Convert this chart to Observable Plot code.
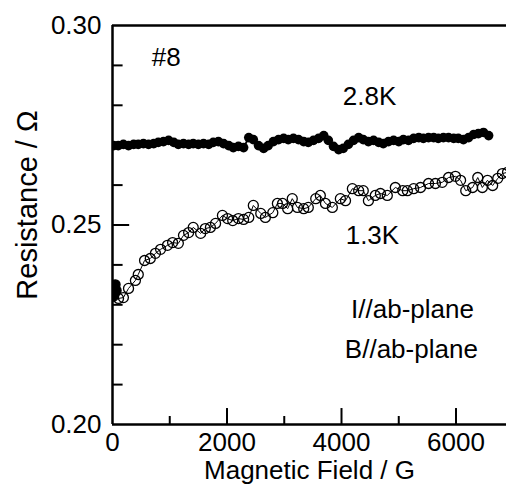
<!DOCTYPE html>
<html><head><meta charset="utf-8">
<script src="https://cdn.jsdelivr.net/npm/d3@7"></script>
<script src="https://cdn.jsdelivr.net/npm/@observablehq/plot@0.6"></script>
<style>html,body{margin:0;padding:0;background:#fff;} svg{display:block;}</style>
</head><body><div id="chart"></div>
<script>
// 2.8K series (filled dots)
const field28 = [20,100,190,280,370,450,540,630,720,800,890,980,1070,1150,1240,1330,1410,1500,1590,1680,1760,1850,1940,2030,2110,2200,2290,2380,2460,2550,2640,2720,2810,2900,2990,3070,3160,3250,3340,3420,3510,3600,3690,3770,3860,3950,4030,4120,4210,4300,4380,4470,4560,4650,4730,4820,4910,5000,5080,5170,5260,5350,5430,5520,5610,5690,5780,5870,5960,6040,6130,6220,6310,6390,6480,6570];
const res28 = [0.2699,0.2699,0.2702,0.2699,0.2702,0.2702,0.2704,0.2702,0.2704,0.2707,0.2709,0.2712,0.2707,0.2702,0.2704,0.2702,0.2704,0.2702,0.2704,0.2702,0.2707,0.2709,0.2704,0.2699,0.2694,0.2697,0.2694,0.2719,0.2714,0.2699,0.2692,0.2699,0.2709,0.2714,0.2717,0.2714,0.2717,0.2714,0.2709,0.2707,0.2712,0.2717,0.2724,0.2712,0.2697,0.2689,0.2692,0.2702,0.2712,0.2719,0.2714,0.2709,0.2712,0.2707,0.2704,0.2709,0.2712,0.2709,0.2714,0.2712,0.2717,0.2719,0.2717,0.2719,0.2719,0.2717,0.2719,0.2719,0.2717,0.2717,0.2714,0.2719,0.2727,0.2729,0.2732,0.2724];

// 1.3K series (open circles)
const field13 = [105,190,280,400,450,560,660,750,840,960,1050,1150,1240,1330,1410,1540,1620,1710,1800,1920,2010,2100,2200,2290,2380,2460,2590,2670,2800,2880,2970,3060,3140,3230,3340,3420,3550,3630,3720,3840,3980,4070,4190,4300,4380,4470,4590,4680,4800,4940,5070,5150,5260,5380,5520,5640,5760,5870,5990,6080,6170,6290,6380,6460,6550,6640,6730,6810,6900];
const res13 = [0.2316,0.2318,0.2341,0.2361,0.2376,0.2411,0.2416,0.2429,0.2439,0.2449,0.2456,0.2454,0.2474,0.2481,0.2494,0.2479,0.2491,0.2494,0.2504,0.2524,0.2516,0.2511,0.2516,0.2514,0.2519,0.2549,0.2529,0.2519,0.2531,0.2554,0.2554,0.2541,0.2566,0.2544,0.2541,0.2544,0.2566,0.2574,0.2554,0.2544,0.2566,0.2561,0.2591,0.2586,0.2586,0.2561,0.2574,0.2579,0.2574,0.2594,0.2586,0.2586,0.2591,0.2594,0.2604,0.2604,0.2607,0.2619,0.2622,0.2612,0.2586,0.2594,0.2619,0.2594,0.2612,0.2599,0.2617,0.2629,0.2632];

// 1.3K initial points at zero field (filled)
const field13Start = [17,35,52,17,70];
const res13Start = [0.2343,0.2331,0.2351,0.2321,0.2336];

// axis ticks
const xTickLabels = [0,2000,4000,6000];
const xMinorTicks = [1000,3000,5000];
const yTickLabels = [0.20,0.25,0.30];
const yMinorTicks = [0.21,0.22,0.23,0.24,0.26,0.27,0.28,0.29];

// annotations
const notes = ["#8","2.8K","1.3K","I//ab-plane","B//ab-plane"];
const noteX = [940,4490,4540,5240,5220];
const noteY = [0.2919,0.2821,0.2473,0.2287,0.2187];

const s28 = field28.map((x,i)=>({x, y: res28[i]}));
const s13 = field13.map((x,i)=>({x, y: res13[i]}));
const s13s = field13Start.map((x,i)=>({x, y: res13Start[i]}));
const ann = notes.map((t,i)=>({t, x: noteX[i], y: noteY[i]}));

const font = "'Liberation Sans', Arial, Helvetica, sans-serif";

const chart = Plot.plot({
  width: 506, height: 484,
  marginLeft: 112, marginRight: 0, marginTop: 25, marginBottom: 60,
  style: {fontFamily: font, background: "white", color: "black", overflow: "hidden"},
  x: {domain: [0, 6882]},
  y: {domain: [0.2, 0.3]},
  marks: [
    // series
    Plot.line(s13, {x: "x", y: "y", stroke: "black", strokeWidth: 1, clip: true}),
    Plot.dot(s13, {x: "x", y: "y", r: 5, stroke: "black", fill: "none", strokeWidth: 1.3, clip: true}),
    Plot.dot(s13s, {x: "x", y: "y", r: 4.5, fill: "black", stroke: "black", clip: true}),
    Plot.line(s28, {x: "x", y: "y", stroke: "black", strokeWidth: 2, clip: true}),
    Plot.dot(s28, {x: "x", y: "y", r: 4.8, fill: "black", stroke: "none", clip: true}),
    // frame lines
    Plot.ruleY([0.2, 0.3], {strokeWidth: 2.5}),
    Plot.ruleX([0], {strokeWidth: 2.5}),
    // inward ticks
    Plot.ruleX(xTickLabels.slice(1), {x: d=>d, y1: 0.2, y2: 0.204, strokeWidth: 2}),
    Plot.ruleX(xMinorTicks, {x: d=>d, y1: 0.2, y2: 0.202, strokeWidth: 2}),
    Plot.ruleY([0.25], {y: d=>d, x1: 0, x2: 300, strokeWidth: 2}),
    Plot.ruleY(yMinorTicks, {y: d=>d, x1: 0, x2: 185, strokeWidth: 2}),
    // axes (labels only)
    Plot.axisX(xTickLabels, {tickSize: 0, tickPadding: 8, fontSize: 26, label: null, tickFormat: d=>String(d)}),
    Plot.axisY(yTickLabels, {tickSize: 0, tickPadding: 11, fontSize: 26, label: null, tickFormat: d=>d.toFixed(2)}),
    // axis titles
    Plot.text(["Magnetic Field / G"], {frameAnchor: "bottom", lineAnchor: "middle", textAnchor: "middle", dy: 46, fontSize: 26}),
    Plot.text(["Resistance / \u03A9"], {frameAnchor: "left", lineAnchor: "middle", textAnchor: "middle", dx: -85, dy: -20, rotate: -90, fontSize: 29}),
    // annotations
    Plot.text(ann, {x: "x", y: "y", text: "t", fontSize: 26})
  ]
});
document.getElementById("chart").appendChild(chart);
</script>
</body></html>
